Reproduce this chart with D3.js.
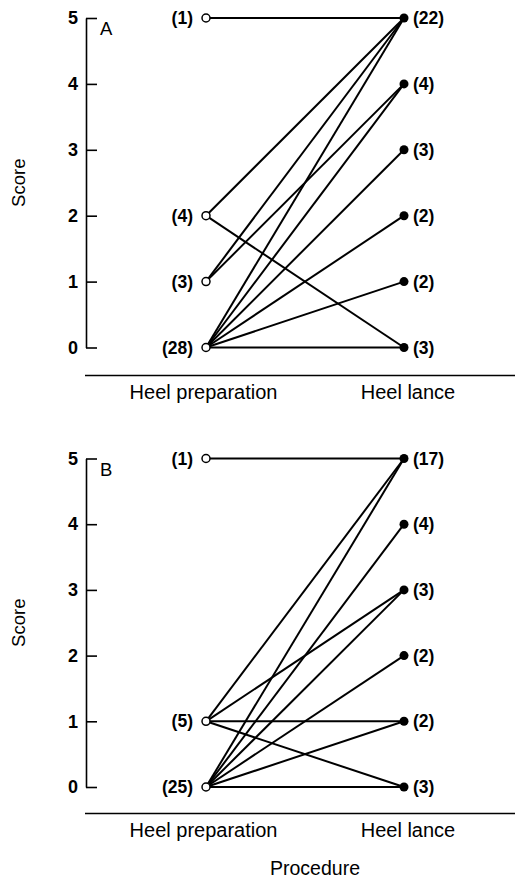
<!DOCTYPE html>
<html>
<head>
<meta charset="utf-8">
<script src="https://cdn.jsdelivr.net/npm/d3@7"></script>
<style>
  body { margin: 0; background: #fff; }
  svg { display: block; font-family: "Liberation Sans", Arial, sans-serif; }
</style>
</head>
<body>
<div id="chart"></div>
<script>
// scores and procedures
var scoreTicks = [0, 1, 2, 3, 4, 5];
var procedures = ["Heel preparation", "Heel lance"];

// panel A
var prepScoresA = [5, 2, 1, 0];
var prepCountsA = [1, 4, 3, 28];
var lanceScoresA = [5, 4, 3, 2, 1, 0];
var lanceCountsA = [22, 4, 3, 2, 2, 3];
var linksA = [[5, 5], [2, 5], [2, 0], [1, 5], [1, 4], [0, 5], [0, 4], [0, 3], [0, 2], [0, 1], [0, 0]];

// panel B
var prepScoresB = [5, 1, 0];
var prepCountsB = [1, 5, 25];
var lanceScoresB = [5, 4, 3, 2, 1, 0];
var lanceCountsB = [17, 4, 3, 2, 2, 3];
var linksB = [[5, 5], [1, 5], [1, 3], [1, 1], [1, 0], [0, 5], [0, 4], [0, 3], [0, 2], [0, 1], [0, 0]];

var w = 515, h = 879;

var svg = d3.select("#chart")
    .append("svg")
        .attr("width", w)
        .attr("height", h);

var x = d3.scalePoint()
    .domain(procedures)
    .range([206, 404]);

function drawPanel(letter, top, bottom, sepY, prepScores, prepCounts, lanceScores, lanceCounts, links) {

    var y = d3.scaleLinear()
        .domain([0, 5])
        .range([bottom, top]);

    var g = svg.append("g");

    var axis = d3.axisLeft(y)
        .tickValues(scoreTicks)
        .tickFormat(d3.format("d"))
        .tickSizeInner(-11)
        .tickSizeOuter(0)
        .tickPadding(8);

    var ax = g.append("g")
        .attr("transform", "translate(86,0)")
        .call(axis);
    ax.select(".domain").attr("stroke-width", 1.6);
    ax.selectAll(".tick line").attr("stroke-width", 1.6);
    ax.selectAll(".tick text")
        .style("font-size", "18px")
        .style("font-weight", "bold")
        .style("font-family", "'Liberation Sans', Arial, sans-serif")
        .attr("fill", "#000");

    g.append("text")
        .attr("x", 100)
        .attr("y", y(5) + 17)
        .style("font-size", "18.5px")
        .text(letter);

    g.append("text")
        .attr("transform", "translate(25," + ((top + bottom) / 2) + ") rotate(-90)")
        .attr("text-anchor", "middle")
        .style("font-size", "18.5px")
        .text("Score");

    // separator line + procedure labels
    g.append("line")
        .attr("x1", 85).attr("x2", w)
        .attr("y1", sepY).attr("y2", sepY)
        .attr("stroke", "#000")
        .attr("stroke-width", 1.4);

    g.selectAll(".proc")
        .data(procedures)
        .enter().append("text")
            .attr("class", "proc")
            .attr("x", function(d, i){ return x(d) + (i === 0 ? -2.5 : 4); })
            .attr("y", sepY + 23)
            .attr("text-anchor", "middle")
            .style("font-size", "20px")
            .text(function(d){ return d; });

    // connecting lines
    g.selectAll(".link")
        .data(links)
        .enter().append("line")
            .attr("class", "link")
            .attr("x1", x(procedures[0]))
            .attr("y1", function(d){ return y(d[0]); })
            .attr("x2", x(procedures[1]))
            .attr("y2", function(d){ return y(d[1]); })
            .attr("stroke", "#000")
            .attr("stroke-width", 2);

    // heel preparation points (open)
    g.selectAll(".prep")
        .data(prepScores)
        .enter().append("circle")
            .attr("class", "prep")
            .attr("cx", x(procedures[0]))
            .attr("cy", function(d){ return y(d); })
            .attr("r", 4)
            .attr("fill", "#fff")
            .attr("stroke", "#000")
            .attr("stroke-width", 1.5);

    g.selectAll(".prepLabel")
        .data(prepScores)
        .enter().append("text")
            .attr("class", "prepLabel")
            .attr("x", x(procedures[0]) - 13)
            .attr("y", function(d){ return y(d) + 6; })
            .attr("text-anchor", "end")
            .style("font-size", "17.5px")
            .style("font-weight", "bold")
            .text(function(d, i){ return "(" + prepCounts[i] + ")"; });

    // heel lance points (filled)
    g.selectAll(".lance")
        .data(lanceScores)
        .enter().append("circle")
            .attr("class", "lance")
            .attr("cx", x(procedures[1]))
            .attr("cy", function(d){ return y(d); })
            .attr("r", 4.5)
            .attr("fill", "#000");

    g.selectAll(".lanceLabel")
        .data(lanceScores)
        .enter().append("text")
            .attr("class", "lanceLabel")
            .attr("x", x(procedures[1]) + 9)
            .attr("y", function(d){ return y(d) + 6; })
            .style("font-size", "17.5px")
            .style("font-weight", "bold")
            .text(function(d, i){ return "(" + lanceCounts[i] + ")"; });
}

drawPanel("A", 18, 347.5, 375.5, prepScoresA, prepCountsA, lanceScoresA, lanceCountsA, linksA);
drawPanel("B", 458.5, 787, 813.5, prepScoresB, prepCountsB, lanceScoresB, lanceCountsB, linksB);

svg.append("text")
    .attr("x", 315)
    .attr("y", 875)
    .attr("text-anchor", "middle")
    .style("font-size", "19.5px")
    .text("Procedure");
</script>
</body>
</html>
